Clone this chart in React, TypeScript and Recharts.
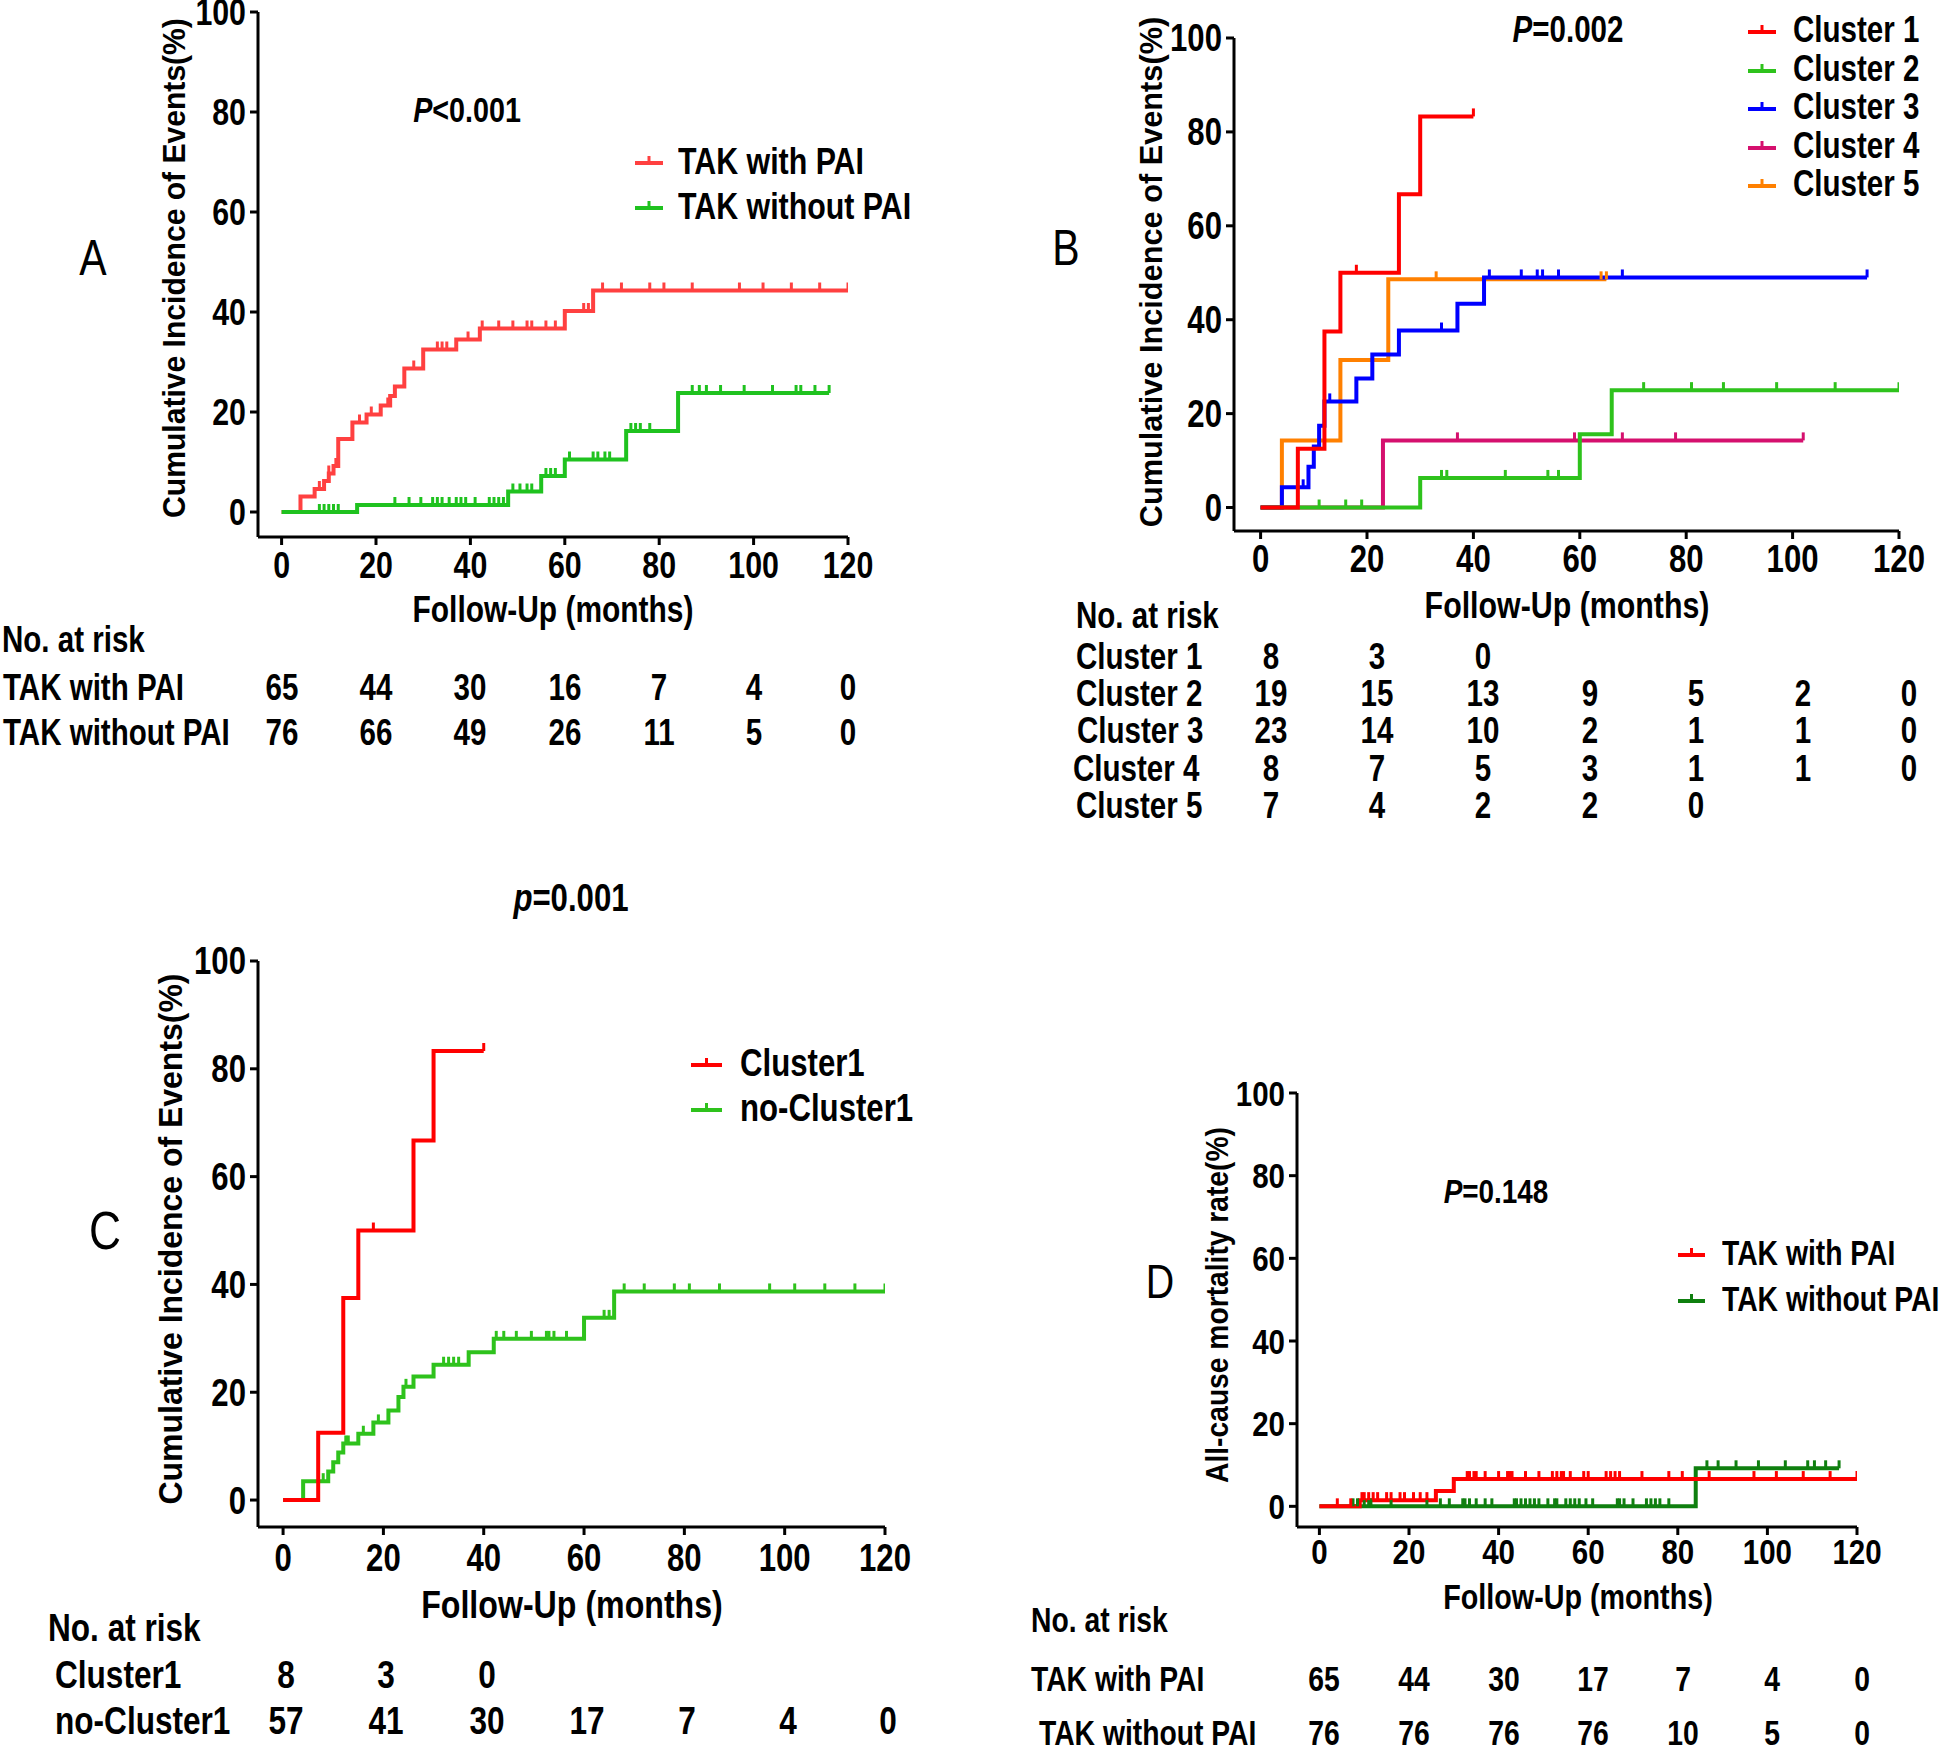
import React from "react";
import { LineChart, Line, XAxis, YAxis, Legend } from "recharts";

const FONT = "'Liberation Sans', Arial, sans-serif";
const SQUEEZE = 0.82; // the figure's lettering is condensed

const monthTicks = [0, 20, 40, 60, 80, 100, 120];
const pctTicks = [0, 20, 40, 60, 80, 100];

// ---- panel A: events [month, %] and censored months
const aWithEvents = [[0, 0], [4, 3.1], [7, 4.6], [9, 6.2], [10, 7.7], [11, 9.2], [12, 14.6], [15, 17.9], [18, 19.5], [21, 21.3], [23, 23.2], [24, 25.1], [26, 28.7], [30, 32.5], [37, 34.5], [42, 36.7], [60, 40.2], [66, 44.3]];
const aWithCens = [8, 10, 11.5, 16.5, 19, 22.5, 28, 33, 34, 35, 39.5, 42.5, 46, 49, 52, 53, 56, 58, 64, 65, 68, 72, 78, 81, 87, 97, 102, 108, 114, 120];
const aWithoutEvents = [[0, 0], [16, 1.4], [48, 4.1], [55, 7.2], [60, 10.5], [73, 16.2], [84, 23.8]];
const aWithoutCens = [8, 9, 10, 11, 12, 24, 27, 29.5, 32, 33, 34, 35.5, 37, 38, 39, 41, 44, 45, 46, 47, 49, 50.5, 52, 53, 56, 57, 58, 61, 66, 67, 68.5, 69.5, 74, 75, 76, 78, 87, 88.5, 90, 93, 98, 104, 109, 110, 113, 116];

// ---- panel B
const bC1Events = [[0, 0], [7, 12.5], [12, 37.5], [15, 50], [26, 66.7], [30, 83.3]];
const bC1Cens = [18, 40];
const bC2Events = [[0, 0], [30, 6.3], [60, 15.6], [66, 25]];
const bC2Cens = [11, 16, 19, 34, 35, 46, 54, 56, 72, 81, 87, 97, 108, 120];
const bC3Events = [[0, 0], [4, 4.3], [9, 8.7], [10, 13], [11, 17.4], [12, 22.6], [18, 27.5], [21, 32.6], [26, 37.7], [37, 43.4], [42, 49]];
const bC3Cens = [8, 13, 34, 43, 49, 52, 53, 56, 68, 114];
const bC4Events = [[0, 0], [23, 14.3]];
const bC4Cens = [37, 59, 68, 78, 102];
const bC5Events = [[0, 0], [4, 14.3], [15, 31.4], [24, 48.6]];
const bC5Cens = [33, 64, 65];

// ---- panel C
const cC1Events = [[0, 0], [7, 12.5], [12, 37.5], [15, 50], [26, 66.7], [30, 83.3]];
const cC1Cens = [18, 40];
const cNoEvents = [[0, 0], [4, 3.5], [9, 5.3], [10, 7.0], [11, 8.8], [12, 10.5], [15, 12.3], [18, 14.4], [21, 16.6], [23, 19.1], [24, 21.0], [26, 22.9], [30, 25.1], [37, 27.4], [42, 29.9], [60, 33.8], [66, 38.7]];
const cNoCens = [8, 12.5, 13, 16, 19, 24.5, 32, 33, 34, 35, 42.5, 44, 46.5, 49.5, 52.5, 53, 54, 56.5, 64, 65, 68, 72, 78, 81, 87, 97, 102, 108, 114, 120];

// ---- panel D
const dWithEvents = [[0, 0], [9, 1.5], [26, 3.7], [30, 6.6]];
const dWithCens = [4, 7, 9.5, 10, 11, 12, 13, 15, 16, 18, 19, 21, 22.5, 24, 33, 33.5, 34.5, 35, 37, 40, 42, 42.5, 43, 46, 49, 52, 53, 54, 54.5, 56, 59, 60, 64, 65, 66, 67, 72, 78, 81, 87, 97, 102, 108, 114, 120];
const dWithoutEvents = [[0, 0], [84, 9.2]];
const dWithoutCens = [7.5, 8.5, 10, 11, 11.5, 16, 24, 27, 29, 32, 32.5, 33.5, 35, 37, 38.5, 43.5, 44, 45, 46, 47, 48, 49, 51, 52.5, 53, 55, 56, 57, 58, 59.5, 61, 66.5, 67, 68, 70, 73, 74, 75, 76, 78, 86.5, 89, 93, 98, 104, 109, 110.5, 113, 116];

// ---- numbers at risk
const riskALabels = ["TAK with PAI", "TAK without PAI"];
const riskAWith = [65, 44, 30, 16, 7, 4, 0];
const riskAWithout = [76, 66, 49, 26, 11, 5, 0];
const riskBLabels = ["Cluster 1", "Cluster 2", "Cluster 3", "Cluster 4", "Cluster 5"];
const riskB1 = [8, 3, 0];
const riskB2 = [19, 15, 13, 9, 5, 2, 0];
const riskB3 = [23, 14, 10, 2, 1, 1, 0];
const riskB4 = [8, 7, 5, 3, 1, 1, 0];
const riskB5 = [7, 4, 2, 2, 0];
const riskCLabels = ["Cluster1", "no-Cluster1"];
const riskC1 = [8, 3, 0];
const riskCNo = [57, 41, 30, 17, 7, 4, 0];
const riskDLabels = ["TAK with PAI", "TAK without PAI"];
const riskDWith = [65, 44, 30, 17, 7, 4, 0];
const riskDWithout = [76, 76, 76, 76, 10, 5, 0];

function buildSteps(events: number[][], censors: number[]) {
  const pts = events.map(([t, v]) => ({ t, v, c: false }));
  censors.forEach((t) => {
    let v = 0;
    events.forEach(([et, ev]) => {
      if (et <= t) v = ev;
    });
    pts.push({ t, v, c: true });
  });
  pts.sort((a, b) => a.t - b.t || Number(a.c) - Number(b.c));
  return pts;
}

const censorDot = (color: string) => (props: any) => {
  const { cx, cy, payload, index } = props;
  if (!payload || !payload.c || cx == null || cy == null) return <g key={"n" + index} />;
  return <line key={"c" + index} x1={cx} x2={cx} y1={cy - 8} y2={cy} stroke={color} strokeWidth={3} />;
};

// condensed tick label, drawn at the position recharts hands over
const narrowTick = (size: number, side: "bottom" | "left") => (props: any) => {
  const { x, y, payload } = props;
  return (
    <text
      transform={`translate(${x},${y}) scale(${SQUEEZE},1)`}
      textAnchor={side === "bottom" ? "middle" : "end"}
      dy={side === "bottom" ? "0.71em" : "0.355em"}
      fontFamily={FONT}
      fontWeight={700}
      fontSize={size}
      fill="#000"
    >
      {payload.value}
    </text>
  );
};

function Txt({ x, y, children, anchor = "start", size = 35, weight = 700, rotate = false, squeeze = SQUEEZE }: any) {
  let tr = "";
  let origin = "50% 50%";
  if (rotate) tr = `translate(-50%, -50%) rotate(-90deg) scaleX(${squeeze})`;
  else if (anchor === "middle") tr = `translate(-50%, -50%) scaleX(${squeeze})`;
  else {
    tr = `translateY(-50%) scaleX(${squeeze})`;
    origin = "0 50%";
  }
  return (
    <div
      style={{
        position: "absolute",
        left: x,
        top: y,
        transform: tr,
        transformOrigin: origin,
        fontFamily: FONT,
        fontSize: size,
        fontWeight: weight,
        lineHeight: 1,
        whiteSpace: "nowrap",
        color: "#000",
      }}
    >
      {children}
    </div>
  );
}

function KMChart({ cfg, series, legendNames }: any) {
  const { left, top, width, height, margin, tickGap, fontSize, legend } = cfg;
  const axis = { stroke: "#000", strokeWidth: 3 };
  return (
    <div style={{ position: "absolute", left, top }}>
      <LineChart width={width} height={height} margin={margin}>
        <XAxis
          type="number"
          dataKey="t"
          domain={[-5, 120]}
          ticks={monthTicks}
          interval={0}
          allowDataOverflow
          axisLine={axis}
          tickLine={axis}
          tickSize={8}
          tickMargin={tickGap}
          height={60}
          tick={narrowTick(fontSize, "bottom")}
        />
        <YAxis
          type="number"
          domain={[-5, 100]}
          ticks={pctTicks}
          interval={0}
          allowDataOverflow
          axisLine={axis}
          tickLine={axis}
          tickSize={8}
          tickMargin={4}
          width={60}
          tick={narrowTick(fontSize, "left")}
        />
        <Legend
          layout="horizontal"
          align="center"
          verticalAlign="middle"
          wrapperStyle={{
            left: legend.x - left,
            top: legend.y - top - legend.gap / 2,
            width: "auto",
            height: "auto",
          }}
          content={({ payload }: any) => {
            const items = [...(payload || [])].sort(
              (a: any, b: any) => legendNames.indexOf(a.value) - legendNames.indexOf(b.value)
            );
            return (
              <div>
                {items.map((it: any) => (
                  <div key={it.value} style={{ display: "flex", alignItems: "center", height: legend.gap }}>
                    <svg width={legend.len} height={20} style={{ display: "block" }}>
                      <line x1={0} x2={legend.len} y1={12} y2={12} stroke={it.color} strokeWidth={4} />
                      <line x1={legend.len / 2} x2={legend.len / 2} y1={5} y2={12} stroke={it.color} strokeWidth={3} />
                    </svg>
                    <span
                      style={{
                        display: "inline-block",
                        marginLeft: legend.textGap,
                        fontFamily: FONT,
                        fontWeight: 700,
                        fontSize: legend.size,
                        lineHeight: 1,
                        color: "#000",
                        whiteSpace: "nowrap",
                        transform: `scaleX(${SQUEEZE})`,
                        transformOrigin: "0 50%",
                      }}
                    >
                      {it.value}
                    </span>
                  </div>
                ))}
              </div>
            );
          }}
        />
        {series.map((s: any) => (
          <Line
            key={s.name}
            name={s.name}
            data={buildSteps(s.events, s.censors)}
            dataKey="v"
            type="stepAfter"
            stroke={s.color}
            strokeWidth={4}
            dot={censorDot(s.color)}
            activeDot={false}
            isAnimationActive={false}
          />
        ))}
      </LineChart>
    </div>
  );
}

function RiskTable({ cfg, header, labels, rows, size }: any) {
  const { left, width, margin } = cfg;
  const plotLeft = left + margin.left + 60;
  const plotRight = left + width - margin.right;
  const xOf = (t: number) => plotLeft + ((t + 5) / 125) * (plotRight - plotLeft);
  return (
    <>
      <Txt x={header.x} y={header.y} size={size}>No. at risk</Txt>
      {labels.map((lab: string, i: number) => (
        <React.Fragment key={lab}>
          <Txt x={header.labelX[i]} y={header.rowY[i]} size={size}>{lab}</Txt>
          {rows[i].map((n: number, j: number) => (
            <Txt key={j} x={xOf(monthTicks[j]) + header.shift} y={header.rowY[i]} anchor="middle" size={size}>
              {n}
            </Txt>
          ))}
        </React.Fragment>
      ))}
    </>
  );
}

const cfgA = { left: 0, top: 0, width: 900, height: 600, margin: { top: 12, right: 52, bottom: 3, left: 198 }, tickGap: 7, fontSize: 37, legend: { x: 635, y: 161, gap: 45, len: 28, textGap: 15, size: 37 } };
const cfgB = { left: 1000, top: 0, width: 944, height: 600, margin: { top: 38, right: 45, bottom: 9, left: 174 }, tickGap: 6, fontSize: 38, legend: { x: 1748, y: 30, gap: 38.5, len: 28, textGap: 17, size: 36 } };
const cfgC = { left: 0, top: 900, width: 940, height: 700, margin: { top: 61, right: 55, bottom: 13, left: 198 }, tickGap: 9, fontSize: 38, legend: { x: 691, y: 1063, gap: 45, len: 31, textGap: 18, size: 38 } };
const cfgD = { left: 1000, top: 900, width: 944, height: 700, margin: { top: 193, right: 87, bottom: 13, left: 237 }, tickGap: 3, fontSize: 36, legend: { x: 1678, y: 1253, gap: 46, len: 27, textGap: 17, size: 34.5 } };

export default function App() {
  const seriesA = [
    { name: "TAK with PAI", color: "#FF4040", events: aWithEvents, censors: aWithCens },
    { name: "TAK without PAI", color: "#1FC21F", events: aWithoutEvents, censors: aWithoutCens },
  ];
  const seriesB = [
    { name: "Cluster 5", color: "#FF8000", events: bC5Events, censors: bC5Cens },
    { name: "Cluster 4", color: "#D5106E", events: bC4Events, censors: bC4Cens },
    { name: "Cluster 3", color: "#0000FF", events: bC3Events, censors: bC3Cens },
    { name: "Cluster 2", color: "#2EC21C", events: bC2Events, censors: bC2Cens },
    { name: "Cluster 1", color: "#FF0000", events: bC1Events, censors: bC1Cens },
  ];
  const seriesC = [
    { name: "no-Cluster1", color: "#2EC21C", events: cNoEvents, censors: cNoCens },
    { name: "Cluster1", color: "#FF0000", events: cC1Events, censors: cC1Cens },
  ];
  const seriesD = [
    { name: "TAK without PAI", color: "#0F7F0F", events: dWithoutEvents, censors: dWithoutCens },
    { name: "TAK with PAI", color: "#FF0000", events: dWithEvents, censors: dWithCens },
  ];

  return (
    <div style={{ position: "absolute", left: 0, top: 0, width: 1944, height: 1747, background: "#fff", overflow: "hidden" }}>
      <KMChart cfg={cfgA} series={seriesA} legendNames={["TAK with PAI", "TAK without PAI"]} />
      <KMChart cfg={cfgB} series={seriesB} legendNames={["Cluster 1", "Cluster 2", "Cluster 3", "Cluster 4", "Cluster 5"]} />
      <KMChart cfg={cfgC} series={seriesC} legendNames={["Cluster1", "no-Cluster1"]} />
      <KMChart cfg={cfgD} series={seriesD} legendNames={["TAK with PAI", "TAK without PAI"]} />

      {/* panel A texts */}
      <Txt x={93} y={258} anchor="middle" size={50} weight={400}>A</Txt>
      <Txt x={467} y={109} anchor="middle" size={35}><i>P</i>&lt;0.001</Txt>
      <Txt x={174} y={268} rotate size={32} squeeze={0.94}>Cumulative Incidence of Events(%)</Txt>
      <Txt x={553} y={610} anchor="middle" size={36.5}>Follow-Up (months)</Txt>
      <RiskTable cfg={cfgA} size={36} header={{ x: 2, y: 640, labelX: [3, 3], rowY: [688, 733], shift: 0 }} labels={riskALabels} rows={[riskAWith, riskAWithout]} />

      {/* panel B texts */}
      <Txt x={1066} y={248} anchor="middle" size={50} weight={400}>B</Txt>
      <Txt x={1568} y={30} anchor="middle" size={36}><i>P</i>=0.002</Txt>
      <Txt x={1151} y={272} rotate size={32} squeeze={0.96}>Cumulative Incidence of Events(%)</Txt>
      <Txt x={1567} y={605} anchor="middle" size={37}>Follow-Up (months)</Txt>
      <RiskTable cfg={cfgB} size={36} header={{ x: 1076, y: 616, labelX: [1076, 1076, 1077, 1073, 1076], rowY: [657, 694, 731, 769, 806], shift: 10 }} labels={riskBLabels} rows={[riskB1, riskB2, riskB3, riskB4, riskB5]} />

      {/* panel C texts */}
      <Txt x={105} y={1230} anchor="middle" size={54} weight={400}>C</Txt>
      <Txt x={571} y={898} anchor="middle" size={38}><i>p</i>=0.001</Txt>
      <Txt x={170} y={1239} rotate size={34} squeeze={0.94}>Cumulative Incidence of Events(%)</Txt>
      <Txt x={572} y={1605} anchor="middle" size={39.2}>Follow-Up (months)</Txt>
      <RiskTable cfg={cfgC} size={38.5} header={{ x: 48, y: 1628, labelX: [55, 55], rowY: [1675, 1721], shift: 3 }} labels={riskCLabels} rows={[riskC1, riskCNo]} />

      {/* panel D texts */}
      <Txt x={1160} y={1282} anchor="middle" size={48} weight={400}>D</Txt>
      <Txt x={1496} y={1191} anchor="middle" size={34}><i>P</i>=0.148</Txt>
      <Txt x={1217} y={1305} rotate size={31} squeeze={0.91}>All-cause mortality rate(%)</Txt>
      <Txt x={1578} y={1596} anchor="middle" size={35}>Follow-Up (months)</Txt>
      <RiskTable cfg={cfgD} size={34.5} header={{ x: 1031, y: 1620, labelX: [1031, 1039], rowY: [1679, 1733], shift: 5 }} labels={riskDLabels} rows={[riskDWith, riskDWithout]} />
    </div>
  );
}
